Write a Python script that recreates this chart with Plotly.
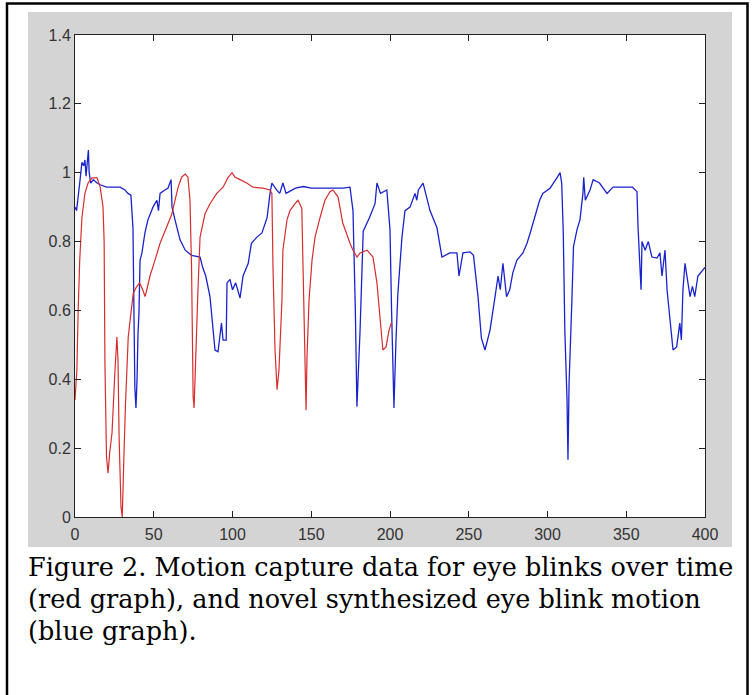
import plotly.graph_objects as go

# ---- data ----
blue_t = [0, 1, 3, 4.4, 5.5, 6.3, 7, 8.5, 9, 10,
          11.6, 14, 16, 20, 28.6, 31.7, 33.6, 35.5, 36.8, 37.4,
          38, 38.7, 39.4, 40, 40.6, 41.3, 42.5, 44.4, 46.3, 49.5,
          52, 53, 54, 57, 59, 61, 61.6, 63.5, 66.7, 70,
          74, 79.4, 81, 83, 85.7, 88.9, 90.8, 93, 94, 96,
          96.5, 98.4, 100, 102, 104.8, 106.7, 110, 112, 115.5, 118.7,
          122, 123.8, 125, 128, 130, 132, 134, 136, 140, 145,
          150, 160, 170, 174.6, 176.5, 178, 179, 181, 183, 187,
          190.5, 191.7, 194, 198, 200, 201, 202, 202.5, 203.8, 205,
          207.6, 209.5, 212.7, 215.9, 217, 218, 221, 222, 225.4, 229.8,
          233, 238, 242.5, 243.8, 246.3, 250.8, 253, 255.9, 258, 260.3,
          263.5, 266.7, 268.6, 270, 271.7, 274, 276, 278, 280.6, 284.4,
          287, 289, 292, 295, 297, 301.6, 306, 308, 309, 310,
          311, 312.4, 313, 313.7, 315.5, 316.5, 318.7, 320.6, 322.5, 323,
          324, 327, 329, 333, 337.8, 341.6, 354, 356.8, 357.5, 358.7,
          359.4, 360, 362, 364, 366.3, 369.5, 371.4, 372.7, 374.6, 375.9,
          377.8, 379.7, 382, 384, 385, 386, 387.3, 388.5, 390.5, 392,
          393.5, 395.5, 398.7, 400]
blue_v = [0.90, 0.89, 0.97, 1.03, 1.02, 1.037, 0.99, 1.066, 1.0, 0.97,
          0.98, 0.97, 0.965, 0.958, 0.958, 0.95, 0.94, 0.935, 0.84, 0.65,
          0.377, 0.317, 0.40, 0.534, 0.59, 0.746, 0.767, 0.825, 0.863, 0.90,
          0.92, 0.89, 0.94, 0.95, 0.955, 0.98, 0.90, 0.863, 0.805, 0.775,
          0.76, 0.755, 0.726, 0.70, 0.64, 0.485, 0.48, 0.563, 0.514, 0.514,
          0.68, 0.69, 0.66, 0.68, 0.636, 0.70, 0.737, 0.795, 0.813, 0.825,
          0.87, 0.94, 0.97, 0.95, 0.94, 0.97, 0.94, 0.945, 0.955, 0.96,
          0.955, 0.955, 0.955, 0.958, 0.89, 0.60, 0.32, 0.543, 0.83, 0.87,
          0.91, 0.97, 0.94, 0.95, 0.834, 0.60, 0.37, 0.317, 0.514, 0.65,
          0.813, 0.89, 0.90, 0.94, 0.92, 0.95, 0.97, 0.95, 0.89, 0.84,
          0.755, 0.767, 0.767, 0.70, 0.767, 0.77, 0.76, 0.64, 0.52, 0.485,
          0.543, 0.64, 0.70, 0.66, 0.737, 0.64, 0.66, 0.71, 0.746, 0.767,
          0.795, 0.825, 0.87, 0.92, 0.94, 0.955, 0.985, 1.0, 0.97, 0.83,
          0.543, 0.34, 0.166, 0.39, 0.63, 0.785, 0.834, 0.863, 0.94, 0.987,
          0.92, 0.95, 0.98, 0.97, 0.94, 0.958, 0.958, 0.945, 0.84, 0.71,
          0.66, 0.80, 0.775, 0.80, 0.755, 0.752, 0.767, 0.70, 0.775, 0.66,
          0.58, 0.485, 0.494, 0.563, 0.514, 0.66, 0.737, 0.70, 0.64, 0.67,
          0.64, 0.70, 0.717, 0.725]

red_t = [0, 1.2, 2, 3, 4.4, 6.3, 8.3, 10.8, 14, 16,
         17.8, 18.5, 19, 20, 21, 22, 23.5, 24.3, 25.4, 26.6,
         27.3, 28, 29.2, 30, 30.6, 31, 32, 33, 33.8, 35,
         36, 37, 39, 41, 43, 44.5, 45.6, 47.6, 50.8, 54,
         58, 61.5, 63.5, 65.5, 67.7, 70, 71.7, 73, 74, 74.5,
         75, 75.6, 76.8, 78, 79.4, 82.5, 85.7, 90, 94, 97,
         99.7, 101.6, 104.8, 109, 113, 119.4, 123.8, 125, 125.7, 126.5,
         127, 128.3, 129.5, 131.4, 132, 134.6, 136.5, 139.7, 141.6, 144,
         144.8, 146, 146.7, 147.3, 148.6, 150.5, 152.4, 155.6, 158.7, 161.9,
         163.8, 167, 170, 174.6, 176.5, 179, 181, 185.4, 189.2, 191.7,
         193.7, 195.5, 197.5, 199.4, 201]
red_v = [0.34, 0.427, 0.60, 0.746, 0.87, 0.94, 0.97, 0.985, 0.985, 0.958,
         0.90, 0.80, 0.447, 0.175, 0.127, 0.186, 0.244, 0.33, 0.427, 0.523,
         0.456, 0.232, 0.03, 0.0, 0.07, 0.166, 0.32, 0.436, 0.523, 0.572,
         0.61, 0.65, 0.668, 0.68, 0.66, 0.64, 0.66, 0.70, 0.746, 0.795,
         0.84, 0.88, 0.92, 0.958, 0.987, 0.996, 0.987, 0.92, 0.726, 0.543,
         0.35, 0.317, 0.505, 0.65, 0.813, 0.88, 0.91, 0.94, 0.958, 0.985,
         1.0, 0.987, 0.98, 0.97, 0.958, 0.955, 0.95, 0.94, 0.726, 0.58,
         0.485, 0.37, 0.427, 0.63, 0.775, 0.863, 0.89, 0.91, 0.92, 0.897,
         0.726, 0.485, 0.31, 0.465, 0.63, 0.746, 0.813, 0.87, 0.92, 0.945,
         0.95, 0.93, 0.854, 0.795, 0.775, 0.755, 0.767, 0.775, 0.755, 0.68,
         0.563, 0.485, 0.494, 0.543, 0.566]

x_ticks = [0, 50, 100, 150, 200, 250, 300, 350, 400]
y_ticks = [0, 0.2, 0.4, 0.6, 0.8, 1.0, 1.2, 1.4]
y_tick_labels = ["0", "0.2", "0.4", "0.6", "0.8", "1", "1.2", "1.4"]

caption_lines = [
    "Figure 2. Motion capture data for eye blinks over time",
    "(red graph), and novel synthesized eye blink motion",
    "(blue graph).",
]

# ---- layout geometry (pixels) ----
W, H = 752, 695
L, R, T, B = 75, 705, 35, 517
pw, ph = R - L, B - T


def px_x(p):
    return (p - L) / pw


def px_y(p):
    return (B - p) / ph


fig = go.Figure()
fig.add_trace(go.Scatter(x=blue_t, y=blue_v, mode="lines",
                         line=dict(color="rgb(25,35,205)", width=1.3),
                         showlegend=False, hoverinfo="skip"))
fig.add_trace(go.Scatter(x=red_t, y=red_v, mode="lines",
                         line=dict(color="rgb(215,45,45)", width=1.2),
                         showlegend=False, hoverinfo="skip"))

axis_common = dict(showgrid=False, zeroline=False, showline=True,
                   linecolor="#222", linewidth=1, mirror="ticks",
                   ticks="inside", ticklen=6, tickcolor="#222",
                   tickfont=dict(family="Liberation Sans, Arial, sans-serif",
                                 size=16, color="#333"))

fig.update_xaxes(range=[0, 400], tickvals=x_ticks,
                 ticktext=[str(v) for v in x_ticks],
                 ticklabelstandoff=3, **axis_common)
fig.update_yaxes(range=[0, 1.4], tickvals=y_ticks,
                 ticktext=y_tick_labels, **axis_common)

shapes = [
    # grey figure background
    dict(type="rect", xref="paper", yref="paper", layer="below",
         x0=px_x(28), x1=px_x(732), y0=px_y(547), y1=px_y(12),
         fillcolor="#d4d4d4", line=dict(width=0)),
    # white axes area
    dict(type="rect", xref="paper", yref="paper", layer="below",
         x0=0, x1=1, y0=0, y1=1, fillcolor="white", line=dict(width=0)),
    # outer black border
    dict(type="rect", xref="paper", yref="paper", layer="below",
         x0=px_x(7), x1=px_x(747.5), y0=px_y(700), y1=px_y(3.5),
         fillcolor="rgba(0,0,0,0)", line=dict(color="black", width=2.5)),
]

annotations = []
baselines = [576, 608, 640]
for txt, bl in zip(caption_lines, baselines):
    annotations.append(dict(
        text=txt, xref="paper", yref="paper", x=px_x(27), y=px_y(bl - 8.8),
        xanchor="left", yanchor="middle", showarrow=False, borderpad=0,
        font=dict(family="DejaVu Serif, Liberation Serif, serif",
                  size=25.5, color="black")))

fig.update_layout(width=W, height=H,
                  margin=dict(l=L, r=W - R, t=T, b=H - B, pad=0),
                  paper_bgcolor="white", plot_bgcolor="rgba(0,0,0,0)",
                  shapes=shapes, annotations=annotations)

fig.write_html("out.html", config={"displayModeBar": False},
               post_script="document.body.style.margin='0';"
                           "document.body.style.padding='0';")
